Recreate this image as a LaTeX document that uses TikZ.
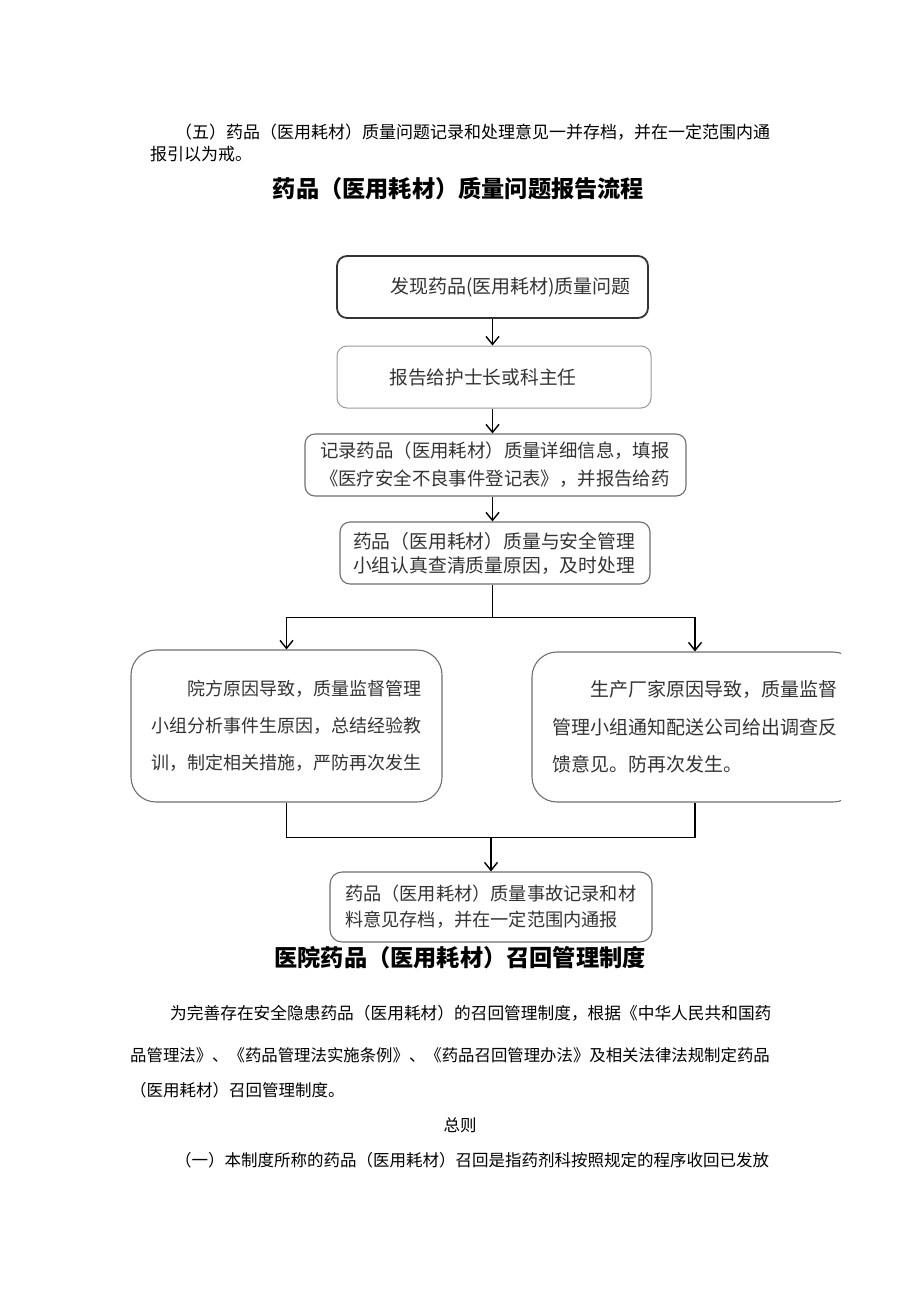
\documentclass[tikz,border=0pt]{standalone}
\usepackage{xcolor}
\usepackage{fontspec}
\setmainfont{Noto Sans CJK SC}
\usepackage{tikz}
\usetikzlibrary{calc}
\usetikzlibrary{arrows.meta}
\tikzset{>={Straight Barb[length = 8pt, width = 13pt]}}
\definecolor{edgedark}{HTML}{333333}
\definecolor{edgemid}{HTML}{6E6E6E}
\definecolor{edgelight}{HTML}{9A9A9A}
\definecolor{inkgray}{HTML}{333333}
\newcommand{\boxfont}[2]{\fontsize{#1}{#2}\selectfont}
\tikzstyle{box} = [rectangle, draw = edgemid, line width = 1.1pt, rounded corners = 10pt, align = left, text = inkgray, inner ysep = 2pt]
\tikzstyle{para} = [draw = none, anchor = west, inner sep = 0, text = black]
\tikzstyle{heading} = [draw = none, inner sep = 0, font = \boxfont{23.2}{28}\bfseries]
\tikzstyle{flow} = [->, draw = black, line width = 1.4pt]
\tikzstyle{wire} = [-, draw = black, line width = 1.4pt]

\begin{document}
\begin{tikzpicture}[x = 1pt, y = -1pt]
\useasboundingbox (0, 0) rectangle (920, 1301);
\node [para, font = \boxfont{17}{20}] (rule5a) at (175, 132) {（五）药品（医用耗材）质量问题记录和处理意见一并存档，并在一定范围内通};
\node [para, font = \boxfont{17}{20}] (rule5b) at (150, 154) {报引以为戒。};
\node [heading] (head1) at (458.5, 189) {药品（医用耗材）质量问题报告流程};

\node [box, draw = edgedark, line width = 1.8pt, text width = 281pt, inner xsep = 15pt, minimum height = 62pt, font = \boxfont{19}{24}] (find) at (492.5, 287) {\hspace*{2em}发现药品(医用耗材)质量问题};
\node [box, draw = edgelight, line width = 1pt, text width = 284pt, inner xsep = 15pt, minimum height = 62pt, font = \boxfont{18.7}{24}] (report) at (494, 377) {\hspace*{2em}报告给护士长或科主任};
\node [box, text width = 351pt, inner xsep = 15pt, minimum height = 62pt, font = \boxfont{18.4}{28}] (record) at (495.5, 465) {记录药品（医用耗材）质量详细信息，填报\\《医疗安全不良事件登记表》，并报告给药};
\node [box, text width = 284pt, inner xsep = 13pt, minimum height = 62pt, font = \boxfont{18.8}{24}] (check) at (495, 553) {药品（医用耗材）质量与安全管理\\小组认真查清质量原因，及时处理};
\node [box, rounded corners = 25pt, text width = 271pt, inner xsep = 20pt, minimum height = 152pt, font = \boxfont{18}{37}] (hosp) at (286.5, 726) {\hspace*{2em}院方原因导致，质量监督管理\\小组分析事件生原因，总结经验教\\训，制定相关措施，严防再次发生};
\begin{scope}
\clip (0, 0) rectangle (841, 1301);
\node [box, rounded corners = 25pt, text width = 285pt, inner xsep = 20.5pt, minimum height = 150pt, font = \boxfont{19}{37.5}] (maker) at (695, 727) {\hspace*{2em}生产厂家原因导致，质量监督\\管理小组通知配送公司给出调查反\\馈意见。防再次发生。};
\end{scope}
\node [box, rounded corners = 12pt, text width = 292pt, inner xsep = 15pt, minimum height = 70pt, font = \boxfont{18.2}{26}] (archive) at (491, 907) {药品（医用耗材）质量事故记录和材\\料意见存档，并在一定范围内通报};

\draw [flow] (find.south) -- (find.south |- report.north);
\draw [flow] (report.south -| find.south) -- (find.south |- record.north);
\draw [flow] (record.south -| find.south) -- (find.south |- check.north);
\coordinate (fork) at ($(check.south -| find.south) + (0, 33)$);
\draw [wire] (check.south -| find.south) -- (fork);
\draw [flow] (fork) -| (hosp.north);
\draw [flow] (fork) -| (maker.north);
\coordinate (join) at ($(hosp.south) + (0, 35)$);
\draw [wire] (hosp.south) -- (join) -| (maker.south);
\draw [flow] (join -| archive.north) -- (archive.north);

\node [heading] (head2) at (460, 958) {医院药品（医用耗材）召回管理制度};
\node [para, font = \boxfont{16.7}{20}] (recall1) at (170, 1013) {为完善存在安全隐患药品（医用耗材）的召回管理制度，根据《中华人民共和国药};
\node [para, font = \boxfont{16.4}{20}] (recall2) at (130, 1055) {品管理法》、《药品管理法实施条例》、《药品召回管理办法》及相关法律法规制定药品};
\node [para, font = \boxfont{16.5}{20}] (recall3) at (130, 1090) {（医用耗材）召回管理制度。};
\node [draw = none, inner sep = 0, font = \boxfont{16.5}{20}] (general) at (460, 1125) {总则};
\node [para, font = \boxfont{16.5}{20}] (recall4) at (175, 1160) {（一）本制度所称的药品（医用耗材）召回是指药剂科按照规定的程序收回已发放};
\end{tikzpicture}
\end{document}
